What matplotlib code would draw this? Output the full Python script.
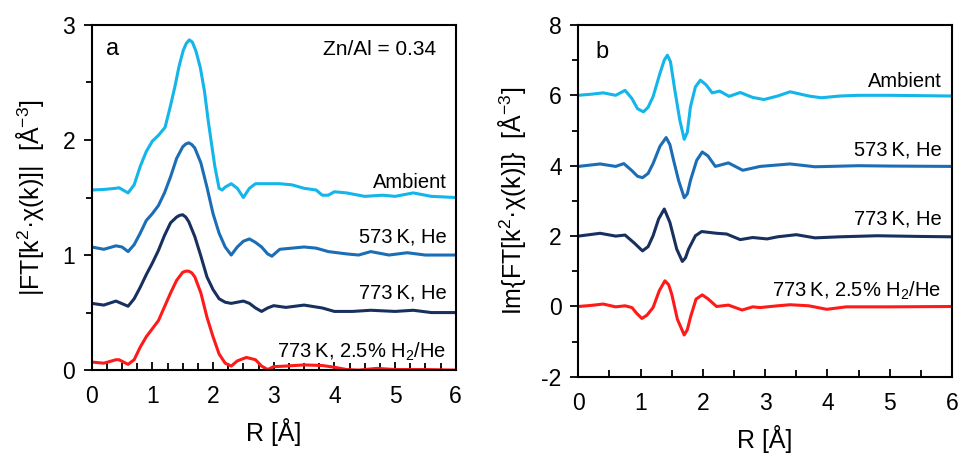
import numpy as np
import matplotlib
matplotlib.use('Agg')
import matplotlib.pyplot as plt
from matplotlib.ticker import MultipleLocator

plt.rcParams['font.family'] = ['Liberation Sans', 'DejaVu Sans']
plt.rcParams['mathtext.fontset'] = 'custom'
plt.rcParams['mathtext.rm'] = 'Liberation Sans'
plt.rcParams['mathtext.it'] = 'Liberation Sans'
plt.rcParams['axes.unicode_minus'] = False

# --- panel a: |FT| magnitude (offset curves) ---
r_amb_a = [0, 0.2, 0.4, 0.45, 0.6, 0.7, 0.8, 0.9, 1.0, 1.1, 1.21, 1.3, 1.37, 1.44, 1.51, 1.56, 1.61, 1.66, 1.72, 1.79, 1.86, 1.92,
           1.98, 2.03, 2.1, 2.15, 2.2, 2.3, 2.4, 2.5, 2.6, 2.7, 2.9, 3.1, 3.3, 3.5, 3.7, 3.8, 3.9, 4.0, 4.2, 4.5, 4.8, 5.0, 5.3, 5.6, 6.0]
amb_a = [1.565, 1.57, 1.58, 1.585, 1.54, 1.61, 1.77, 1.90, 1.99, 2.04, 2.11, 2.30, 2.46, 2.64, 2.78, 2.84, 2.87, 2.85, 2.77, 2.63, 2.42, 2.17,
         1.95, 1.77, 1.58, 1.565, 1.59, 1.62, 1.58, 1.50, 1.58, 1.62, 1.62, 1.62, 1.61, 1.58, 1.565, 1.52, 1.52, 1.55, 1.54, 1.51, 1.52, 1.51, 1.54, 1.51, 1.50]

r_573_a = [0, 0.2, 0.4, 0.5, 0.6, 0.7, 0.8, 0.9, 1.0, 1.1, 1.2, 1.3, 1.4, 1.5, 1.55, 1.6, 1.65, 1.7, 1.8, 1.9, 2.0, 2.1, 2.2, 2.3,
           2.4, 2.5, 2.6, 2.7, 2.8, 2.9, 2.97, 3.1, 3.3, 3.5, 3.7, 3.9, 4.2, 4.4, 4.6, 4.9, 5.2, 5.5, 6.0]
k573_a = [1.07, 1.05, 1.08, 1.07, 1.03, 1.09, 1.19, 1.30, 1.36, 1.43, 1.54, 1.68, 1.84, 1.94, 1.965, 1.975, 1.96, 1.93, 1.80, 1.59, 1.36, 1.19, 1.07, 1.00,
          1.07, 1.12, 1.14, 1.11, 1.07, 1.01, 0.99, 1.05, 1.06, 1.07, 1.06, 1.03, 1.01, 1.00, 1.03, 1.00, 1.02, 1.00, 1.00]

r_773_a = [0, 0.2, 0.4, 0.6, 0.7, 0.8, 0.9, 1.0, 1.1, 1.2, 1.3, 1.4, 1.45, 1.5, 1.55, 1.6, 1.7, 1.8, 1.9, 2.0, 2.1, 2.2, 2.3,
           2.4, 2.5, 2.6, 2.7, 2.8, 2.9, 3.0, 3.2, 3.5, 3.8, 4.0, 4.3, 4.6, 5.0, 5.3, 5.6, 6.0]
k773_a = [0.58, 0.565, 0.60, 0.555, 0.62, 0.72, 0.83, 0.93, 1.04, 1.17, 1.28, 1.33, 1.345, 1.35, 1.33, 1.29, 1.16, 0.99, 0.81, 0.70, 0.62, 0.59, 0.58,
          0.59, 0.60, 0.58, 0.54, 0.51, 0.54, 0.56, 0.545, 0.565, 0.54, 0.51, 0.51, 0.52, 0.51, 0.52, 0.50, 0.50]

r_h2_a = [0, 0.2, 0.4, 0.45, 0.6, 0.7, 0.8, 0.9, 1.0, 1.1, 1.2, 1.3, 1.4, 1.5, 1.55, 1.6, 1.65, 1.7, 1.8, 1.9, 2.0, 2.1, 2.2, 2.3,
          2.4, 2.55, 2.7, 2.8, 2.9, 3.0, 3.2, 3.5, 3.8, 4.0, 4.2, 4.4, 4.7, 5.0, 5.5, 6.0]
h2_a = [0.07, 0.06, 0.09, 0.09, 0.05, 0.09, 0.20, 0.29, 0.36, 0.43, 0.55, 0.67, 0.78, 0.85, 0.86, 0.86, 0.845, 0.81, 0.67, 0.46, 0.29, 0.14, 0.06, 0.035,
        0.08, 0.11, 0.09, 0.035, 0.005, 0.03, 0.035, 0.045, 0.04, 0.025, 0.005, 0.0, 0.015, 0.005, 0.005, 0.0]

# --- panel b: Im part (offset curves) ---
r_amb_b = [0, 0.2, 0.4, 0.6, 0.75, 0.86, 0.95, 1.045, 1.12, 1.2, 1.31, 1.38, 1.43, 1.48, 1.55, 1.63, 1.70, 1.75, 1.8, 1.88, 1.96,
           2.05, 2.15, 2.27, 2.42, 2.6, 2.8, 2.98, 3.2, 3.4, 3.7, 3.9, 4.2, 4.5, 5.0, 6.0]
amb_b = [6.0, 6.03, 6.07, 6.0, 6.14, 5.91, 5.62, 5.53, 5.66, 5.96, 6.62, 7.0, 7.14, 6.95, 6.14, 5.29, 4.75, 4.95, 5.67, 6.24, 6.43,
         6.30, 6.07, 6.12, 5.97, 6.08, 5.94, 5.88, 5.98, 6.10, 5.98, 5.93, 5.98, 6.0, 6.0, 5.98]

r_573_b = [0, 0.35, 0.6, 0.73, 0.86, 0.95, 1.03, 1.12, 1.2, 1.31, 1.41, 1.47, 1.53, 1.61, 1.70, 1.75, 1.8, 1.9, 1.99,
           2.08, 2.2, 2.41, 2.64, 2.92, 3.4, 3.8, 4.5, 5.0, 6.0]
k573_b = [3.98, 4.05, 3.98, 4.06, 3.86, 3.70, 3.66, 3.78, 4.06, 4.55, 4.80, 4.60, 4.15, 3.58, 3.09, 3.20, 3.58, 4.15, 4.39,
          4.28, 3.98, 4.08, 3.87, 3.98, 4.05, 3.97, 4.0, 3.99, 3.98]

r_773_b = [0, 0.35, 0.6, 0.75, 0.9, 1.03, 1.12, 1.2, 1.29, 1.38, 1.47, 1.58, 1.67, 1.72, 1.77, 1.88, 1.98, 2.22, 2.38, 2.6,
           2.8, 3.03, 3.2, 3.5, 3.8, 4.2, 4.8, 5.5, 6.0]
k773_b = [2.0, 2.08, 2.0, 2.03, 1.80, 1.58, 1.70, 2.01, 2.49, 2.77, 2.39, 1.63, 1.28, 1.38, 1.63, 2.01, 2.13, 2.08, 2.06, 1.90,
          1.96, 1.92, 1.98, 2.04, 1.95, 1.98, 2.01, 1.99, 1.98]

r_h2_b = [0, 0.2, 0.4, 0.6, 0.75, 0.86, 0.94, 1.02, 1.1, 1.2, 1.3, 1.39, 1.45, 1.5, 1.59, 1.70, 1.75, 1.8, 1.89, 1.99, 2.08,
          2.22, 2.41, 2.63, 2.8, 2.92, 3.2, 3.4, 3.7, 3.99, 4.3, 5.0, 6.0]
h2_b = [0.0, 0.03, 0.07, -0.01, 0.02, -0.03, -0.2, -0.34, -0.25, -0.03, 0.45, 0.73, 0.62, 0.35, -0.36, -0.81, -0.66, -0.31, 0.21, 0.33, 0.22,
        0.0, 0.04, -0.10, -0.01, -0.03, 0.02, 0.05, 0.02, -0.08, -0.01, -0.01, 0.0]

labels = ['Ambient', '573\u2009K, He', '773\u2009K, He', '773\u2009K, 2.5% H$_2$/He']
colors = ['#13B5EA', '#1B6DB5', '#17305E', '#FF1A1A']

label_y_a = [1.63, 1.16, 0.67, 0.16]
label_y_b = [6.38, 4.44, 2.49, 0.45]

fig = plt.figure(figsize=(9.58, 4.53), dpi=100)
ax_a = fig.add_axes([0.0957, 0.183, 0.380, 0.762])
ax_b = fig.add_axes([0.6037, 0.168, 0.390, 0.777])

curves_a = [(r_amb_a, amb_a), (r_573_a, k573_a), (r_773_a, k773_a), (r_h2_a, h2_a)]
curves_b = [(r_amb_b, amb_b), (r_573_b, k573_b), (r_773_b, k773_b), (r_h2_b, h2_b)]

for (r, v), c in zip(curves_a, colors):
    ax_a.plot(r, v, color=c, lw=2.2, solid_joinstyle='round')
for (r, v), c in zip(curves_b, colors):
    ax_b.plot(r, v, color=c, lw=2.2, solid_joinstyle='round')

for lab, ya, yb in zip(labels, label_y_a, label_y_b):
    ax_a.text(5.85, ya, lab, ha='right', va='center', fontsize=14.5)
    ax_b.text(5.83, yb, lab, ha='right', va='center', fontsize=14.5)

ax_a.text(0.24, 2.79, 'a', ha='left', va='center', fontsize=17)
ax_a.text(5.67, 2.79, 'Zn/Al = 0.34', ha='right', va='center', fontsize=15)
ax_b.text(0.27, 7.23, 'b', ha='left', va='center', fontsize=17)

ax_a.set_xlim(0, 6)
ax_a.set_ylim(0, 3)
ax_a.yaxis.set_major_locator(MultipleLocator(1))
ax_a.yaxis.set_minor_locator(MultipleLocator(0.5))
ax_a.xaxis.set_major_locator(MultipleLocator(1))
ax_a.xaxis.set_minor_locator(MultipleLocator(0.25))
ax_a.set_ylabel('|FT[k$^2$·χ(k)]|  [Å$^{-3}$]', fontsize=18, labelpad=12)

ax_b.set_xlim(0, 6)
ax_b.set_ylim(-2, 8)
ax_b.yaxis.set_major_locator(MultipleLocator(2))
ax_b.yaxis.set_minor_locator(MultipleLocator(1))
ax_b.xaxis.set_major_locator(MultipleLocator(1))
ax_b.xaxis.set_minor_locator(MultipleLocator(0.5))
ax_b.set_ylabel('Im{FT[k$^2$·χ(k)]}  [Å$^{-3}$]', fontsize=18, labelpad=10)

for ax in (ax_a, ax_b):
    ax.set_xlabel('R [Å]', fontsize=18, labelpad=7)
    for s in ax.spines.values():
        s.set_linewidth(1.5)
    ax.tick_params(axis='x', which='both', direction='in', labelsize=16.5, pad=11, width=1.3)
    ax.tick_params(axis='x', which='major', length=6)
    ax.tick_params(axis='x', which='minor', length=5)
    ax.tick_params(axis='y', which='both', direction='out', labelsize=16.5, pad=6, width=1.3)
    ax.tick_params(axis='y', which='major', length=6)
    ax.tick_params(axis='y', which='minor', length=4)

fig.savefig('out.png', dpi=100)
